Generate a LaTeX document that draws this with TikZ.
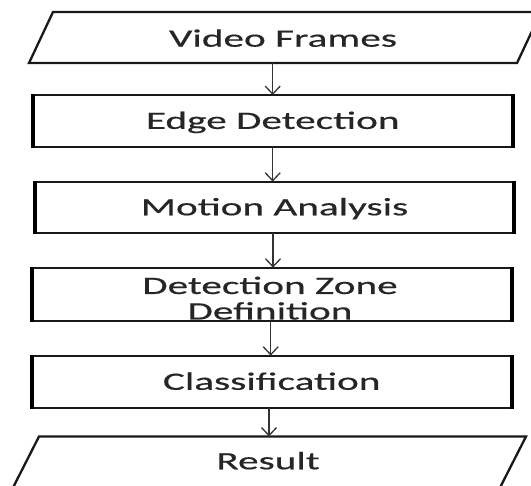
\documentclass[tikz,border=0pt]{standalone}
\usepackage{fontspec}
\setmainfont{Carlito}[FakeStretch=1.65, FakeBold=0.5]
\usetikzlibrary{arrows.meta}
\begin{document}
\begin{tikzpicture}[x=1pt,y=-1pt,
  txt/.style={font=\fontsize{25}{25.5}\selectfont, text=black!85},
  stepbox/.style={txt, draw=black!90, line width=2pt, rectangle,
    minimum width=480pt, outer sep=0pt, inner sep=0pt,
    text height=16pt, text depth=0pt},
  iobox/.style={draw=black!90, line width=2.3pt, line join=miter},
  lbl/.style={txt, inner sep=0pt},
  side/.style={draw=black, line width=3.6pt},
  flow/.style={draw=black!80, line width=1.3pt,
    -{Straight Barb[length=8pt,width=15pt]}}
]
\useasboundingbox (0,0) rectangle (531,486);
\fill[white] (0,0) rectangle (531,486);
\clip (0,0) rectangle (531,486);

% input: video frames
\draw[iobox] (29,63) -- (517,63) -- (541,12) -- (53,12) -- cycle;
\node[lbl, anchor=base] (vf) at (283,46.7) {Video Frames};
\coordinate (vfout) at (272.7,63);

% processing steps
\node[stepbox, minimum height=51.7pt] (ed) at (272.7,120.9) {Edge Detection};
\node[stepbox, minimum width=479pt, minimum height=51.3pt] (ma) at (274.5,207.3) {Motion Analysis};
\node[stepbox, minimum height=53.3pt] (dz) at (271.7,294.3) {};
\node[lbl, align=center, anchor=north] (dzt) at (270,276.5) {Detection Zone\\Definition};
\node[stepbox, minimum height=52.3pt] (cl) at (271.7,381.8) {Classification};

% heavier vertical sides of the step boxes
\foreach \b in {ed,ma,dz,cl}{
  \draw[side] ([yshift=1pt]\b.north west) -- ([yshift=-1pt]\b.south west);
  \draw[side] ([yshift=1pt]\b.north east) -- ([yshift=-1pt]\b.south east);
}

% output: result
\draw[iobox] (11.8,490) -- (498.8,490) -- (526,436.5) -- (39,436.5) -- cycle;
\node[lbl, anchor=base] (res) at (268,469.3) {Result};
\coordinate (resin) at (269,436.5);

% flow arrows
\draw[flow] (vfout) -- (vfout |- ed.north);
\draw[flow] (ed.south) -- (ed.south |- ma.north);
\draw[flow] ([xshift=-1.5pt]ma.south) -- ([xshift=-1.5pt]ma.south |- dz.north);
\draw[flow] ([xshift=-1pt]dz.south) -- ([xshift=-1pt]dz.south |- cl.north);
\draw[flow] (cl.south -| resin) -- (resin);
\end{tikzpicture}
\end{document}
